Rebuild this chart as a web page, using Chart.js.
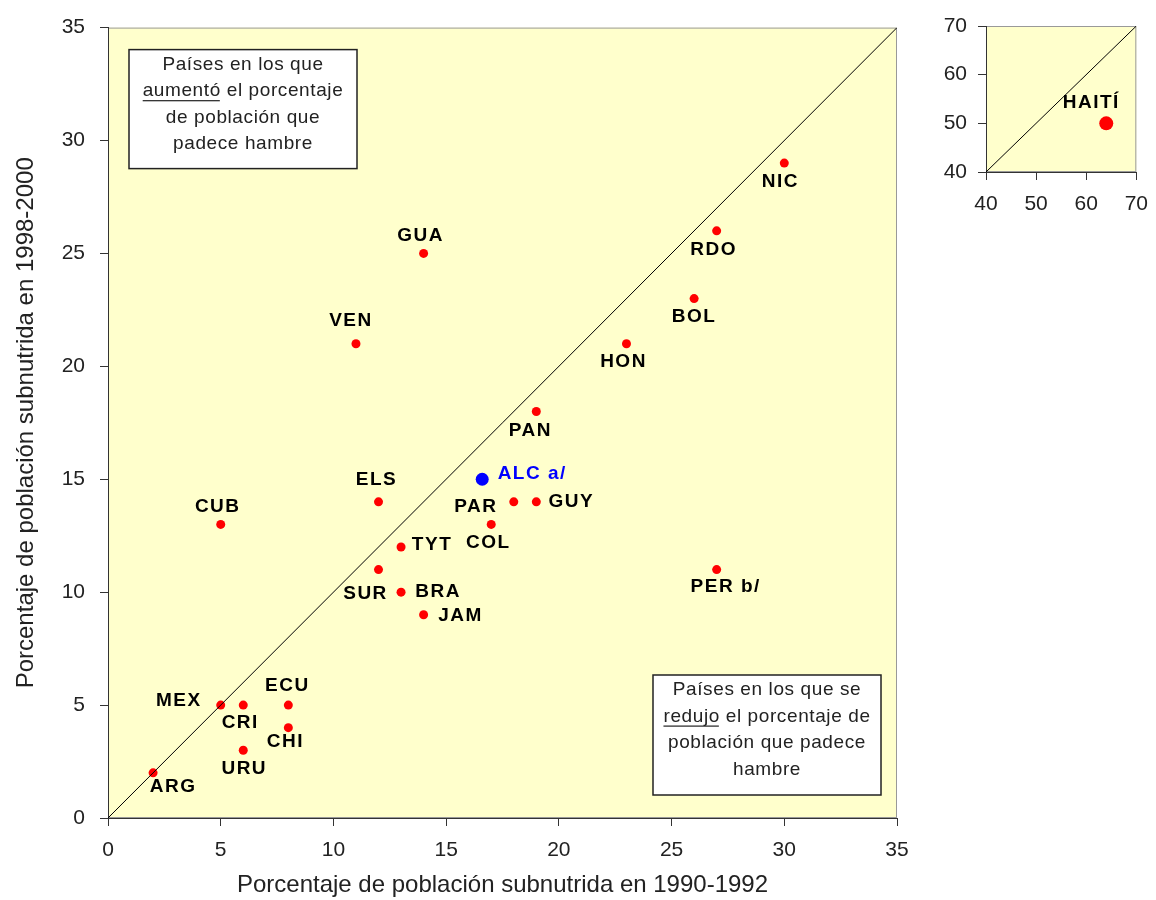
<!DOCTYPE html>
<html>
<head>
<meta charset="utf-8">
<title>Población subnutrida 1990-1992 / 1998-2000</title>
<script src="https://cdn.jsdelivr.net/npm/chart.js@4.4.1/dist/chart.umd.min.js"></script>
<style>
  html, body { margin: 0; padding: 0; background: #fff; overflow: hidden; }
  #main { position: absolute; left: 0; top: 0; width: 940px; height: 900px; }
  #inset { position: absolute; left: 940px; top: 0; width: 220px; height: 220px; }
</style>
</head>
<body>
<div id="main"><canvas id="mainChart"></canvas></div>
<div id="inset"><canvas id="insetChart"></canvas></div>
<script>
// datos: porcentaje de población subnutrida por país
const paises = ['ARG', 'MEX', 'CRI', 'ECU', 'CHI', 'URU', 'CUB', 'VEN', 'GUA', 'ELS', 'TYT', 'SUR',
  'BRA', 'JAM', 'COL', 'PAR', 'GUY', 'PAN', 'HON', 'BOL', 'RDO', 'NIC', 'PER b/'];
const pct1990 = [2, 5, 6, 8, 8, 6, 5, 11, 14, 12, 13, 12, 13, 14, 17, 18, 19, 19, 23, 26, 27, 30, 27];
const pct1998 = [2, 5, 5, 5, 4, 3, 13, 21, 25, 14, 12, 11, 10, 9, 13, 14, 14, 18, 21, 23, 26, 29, 11];

// promedio regional
const promedioNombre = ['ALC a/'];
const promedio1990 = [16.6];
const promedio1998 = [15];

// Haití va en un gráfico aparte
const haitiNombre = ['HAITÍ'];
const haiti1990 = [64];
const haiti1998 = [50];

// línea de igualdad y ticks
const diagonal = [0, 35];
const diagonalHaiti = [40, 70];
const ticksPrincipal = [0, 5, 10, 15, 20, 25, 30, 35];
const ticksHaiti = [40, 50, 60, 70];

// desplazamiento de cada etiqueta respecto del punto (px)
const desplaz = {
  'ARG': [20, 14], 'MEX': [-42, -4], 'CRI': [-3, 18], 'ECU': [-1, -19], 'CHI': [-3, 14], 'URU': [1, 19],
  'CUB': [-3, -18], 'VEN': [-5, -23], 'GUA': [-3, -18], 'ELS': [-2, -22], 'TYT': [31, -2], 'SUR': [-13, 24],
  'BRA': [37, 0], 'JAM': [37, 1], 'COL': [-3, 18], 'PAR': [-38, 5], 'GUY': [35, 0], 'PAN': [-6, 19],
  'HON': [-3, 18], 'BOL': [0, 18], 'RDO': [-3, 19], 'NIC': [-4, 19], 'PER b/': [9, 17],
  'ALC a/': [50, -5], 'HAITÍ': [-15, -21]
};

const textoAumento = [
  [{ t: 'Países en los que' }],
  [{ t: 'aumentó', u: true }, { t: ' el porcentaje' }],
  [{ t: 'de población que' }],
  [{ t: 'padece hambre' }]
];
const textoReduccion = [
  [{ t: 'Países en los que se' }],
  [{ t: 'redujo', u: true }, { t: ' el porcentaje de' }],
  [{ t: 'población que padece' }],
  [{ t: 'hambre' }]
];

Chart.defaults.font.family = 'Arial, "Liberation Sans", sans-serif';
Chart.defaults.color = '#222';

const fondoArea = {
  id: 'fondoArea',
  beforeDraw(chart) {
    const { ctx, chartArea: a } = chart;
    ctx.save();
    ctx.fillStyle = '#FFFFCC';
    ctx.fillRect(a.left, a.top, a.width, a.height);
    ctx.strokeStyle = '#999';
    ctx.lineWidth = 1;
    ctx.strokeRect(a.left + 0.5, a.top + 0.5, a.width - 1, a.height - 1);
    ctx.restore();
  }
};

const etiquetas = {
  id: 'etiquetas',
  afterDatasetsDraw(chart) {
    const ctx = chart.ctx;
    ctx.save();
    ctx.font = 'bold 19px Arial, "Liberation Sans", sans-serif';
    ctx.letterSpacing = '1.5px';
    ctx.textAlign = 'center';
    ctx.textBaseline = 'middle';
    chart.data.datasets.forEach((ds, i) => {
      if (!ds.nombres) return;
      const meta = chart.getDatasetMeta(i);
      meta.data.forEach((pt, j) => {
        const nombre = ds.nombres[j];
        const d = desplaz[nombre] || [0, -18];
        ctx.fillStyle = ds.colorEtiqueta || '#000';
        ctx.fillText(nombre, pt.x + d[0], pt.y + d[1]);
      });
    });
    ctx.restore();
  }
};

function dibujarCuadro(ctx, x, y, w, h, lineas) {
  ctx.save();
  ctx.fillStyle = '#fff';
  ctx.fillRect(x, y, w, h);
  ctx.strokeStyle = '#222';
  ctx.lineWidth = 1.5;
  ctx.strokeRect(x, y, w, h);
  ctx.font = '19px Arial, "Liberation Sans", sans-serif';
  ctx.letterSpacing = '0.6px';
  ctx.fillStyle = '#222';
  ctx.textBaseline = 'middle';
  ctx.textAlign = 'left';
  lineas.forEach((partes, k) => {
    const ly = y + 15 + k * 26.5;
    const total = partes.reduce((s, p) => s + ctx.measureText(p.t).width, 0);
    let lx = x + w / 2 - total / 2;
    partes.forEach(p => {
      const pw = ctx.measureText(p.t).width;
      ctx.fillText(p.t, lx, ly);
      if (p.u) {
        ctx.fillRect(lx, ly + 9, pw - 1, 1.2);
      }
      lx += pw;
    });
  });
  ctx.restore();
}

const cuadros = {
  id: 'cuadros',
  afterDraw(chart) {
    const { ctx, chartArea: a } = chart;
    dibujarCuadro(ctx, a.left + 21, a.top + 22, 228, 119, textoAumento);
    dibujarCuadro(ctx, a.right - 244, a.bottom - 143, 228, 120, textoReduccion);
  }
};

function ejeLineal(min, max, ticks, opts) {
  return {
    type: 'linear',
    min: min,
    max: max,
    afterBuildTicks: s => { s.ticks = ticks.map(v => ({ value: v })); },
    afterFit: opts.fit,
    grid: { drawOnChartArea: false, drawTicks: true, tickLength: 8, color: '#333' },
    border: { display: true, color: '#333', width: 1 },
    ticks: { color: '#222', font: { size: 21 }, padding: opts.padding },
    title: opts.title
  };
}

new Chart(document.getElementById('mainChart'), {
  type: 'scatter',
  data: {
    datasets: [
      {
        type: 'line',
        data: diagonal.map(v => ({ x: v, y: v })),
        borderColor: '#000',
        borderWidth: 1,
        pointRadius: 0
      },
      {
        data: paises.map((p, i) => ({ x: pct1990[i], y: pct1998[i] })),
        nombres: paises,
        backgroundColor: '#FF0000',
        borderWidth: 0,
        pointRadius: 4.5
      },
      {
        data: promedioNombre.map((p, i) => ({ x: promedio1990[i], y: promedio1998[i] })),
        nombres: promedioNombre,
        colorEtiqueta: '#0000FF',
        backgroundColor: '#0000FF',
        borderWidth: 0,
        pointRadius: 6.5
      }
    ]
  },
  options: {
    responsive: true,
    maintainAspectRatio: false,
    animation: false,
    layout: { padding: { top: 25, right: 43, left: 0, bottom: 0 } },
    plugins: { legend: { display: false }, tooltip: { enabled: false } },
    scales: {
      x: ejeLineal(0, 35, ticksPrincipal, {
        fit: s => { s.height = 82; },
        padding: 12,
        title: {
          display: true,
          text: 'Porcentaje de población subnutrida en 1990-1992',
          color: '#222',
          font: { size: 24 },
          padding: { top: 0, bottom: 0 }
        }
      }),
      y: ejeLineal(0, 35, ticksPrincipal, {
        fit: s => { s.width = 108; },
        padding: 15,
        title: {
          display: true,
          text: 'Porcentaje de población subnutrida en 1998-2000',
          color: '#222',
          font: { size: 24 },
          padding: { top: 12, bottom: 0 }
        }
      })
    }
  },
  plugins: [fondoArea, etiquetas, cuadros]
});

new Chart(document.getElementById('insetChart'), {
  type: 'scatter',
  data: {
    datasets: [
      {
        type: 'line',
        data: diagonalHaiti.map(v => ({ x: v, y: v })),
        borderColor: '#000',
        borderWidth: 1,
        pointRadius: 0
      },
      {
        data: haitiNombre.map((p, i) => ({ x: haiti1990[i], y: haiti1998[i] })),
        nombres: haitiNombre,
        backgroundColor: '#FF0000',
        borderWidth: 0,
        pointRadius: 7
      }
    ]
  },
  options: {
    responsive: true,
    maintainAspectRatio: false,
    animation: false,
    layout: { padding: { top: 26, right: 14, left: 0, bottom: 0 } },
    plugins: { legend: { display: false }, tooltip: { enabled: false } },
    scales: {
      x: ejeLineal(40, 70, ticksHaiti, { fit: s => { s.height = 48; }, padding: 12 }),
      y: ejeLineal(40, 70, ticksHaiti, { fit: s => { s.width = 46; }, padding: 11 })
    }
  },
  plugins: [fondoArea, etiquetas]
});
</script>
</body>
</html>
